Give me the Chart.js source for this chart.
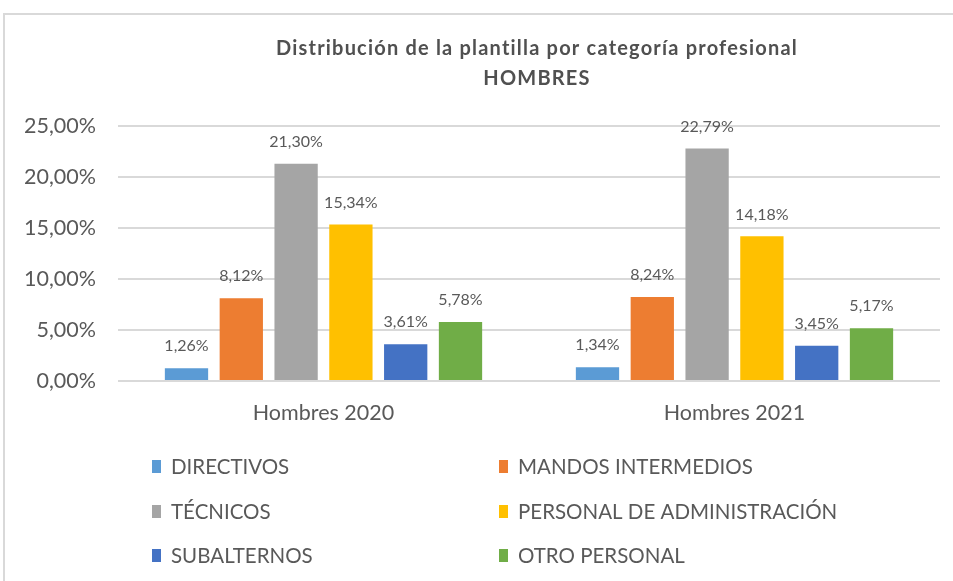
<!DOCTYPE html>
<html>
<head>
<meta charset="utf-8">
<script src="https://cdn.jsdelivr.net/npm/chart.js@4.4.0/dist/chart.umd.min.js"></script>
<style>
html,body{margin:0;padding:0;background:#fff;}
#wrap{width:953px;height:581px;position:relative;}
</style>
</head>
<body>
<div id="wrap"><canvas id="c" width="953" height="581"></canvas></div>
<script>
const categories = ["Hombres 2020", "Hombres 2021"];
const seriesNames = ["DIRECTIVOS", "MANDOS INTERMEDIOS", "TÉCNICOS", "PERSONAL DE ADMINISTRACIÓN", "SUBALTERNOS", "OTRO PERSONAL"];
const directivos = [1.26, 1.34];
const mandosIntermedios = [8.12, 8.24];
const tecnicos = [21.30, 22.79];
const personalAdministracion = [15.34, 14.18];
const subalternos = [3.61, 3.45];
const otroPersonal = [5.78, 5.17];
const yTicks = [0, 5, 10, 15, 20, 25];
const titleLines = ["Distribución de la plantilla por categoría profesional", "HOMBRES"];

const colors = ["#5B9BD5", "#ED7D31", "#A5A5A5", "#FFC000", "#4472C4", "#70AD47"];
const seriesData = [directivos, mandosIntermedios, tecnicos, personalAdministracion, subalternos, otroPersonal];
const FONT = "Lato, 'Open Sans', sans-serif";
const TXT = "#595959";
const fmt = v => v.toFixed(2).replace('.', ',') + '%';

const decor = {
  id: 'decor',
  beforeDraw(chart) {
    const ctx = chart.ctx;
    ctx.save();
    ctx.fillStyle = '#fff';
    ctx.fillRect(0, 0, chart.width, chart.height);
    ctx.strokeStyle = '#d9d9d9';
    ctx.lineWidth = 2;
    ctx.beginPath();
    ctx.moveTo(4, chart.height);
    ctx.lineTo(4, 14);
    ctx.lineTo(chart.width, 14);
    ctx.stroke();
    ctx.restore();
  },
  afterDraw(chart) {
    const ctx = chart.ctx;
    ctx.save();
    // title
    ctx.fillStyle = '#505050';
    ctx.textAlign = 'center';
    ctx.textBaseline = 'middle';
    ctx.font = "bold 20px " + FONT;
    ctx.letterSpacing = '1.2px';
    ctx.fillText(titleLines[0], 537, 49);
    ctx.fillText(titleLines[1], 537, 79);
    ctx.letterSpacing = '0px';
    // legend
    const colX = [152, 499];
    const rowY = [466, 511, 555];
    ctx.textAlign = 'left';
    ctx.fillStyle = TXT;
    ctx.font = "20.5px " + FONT;
    chart.data.datasets.forEach((ds, i) => {
      const x = colX[i % 2];
      const y = rowY[Math.floor(i / 2)];
      ctx.fillStyle = ds.backgroundColor;
      ctx.fillRect(x, y - 6, 9, 13);
      ctx.fillStyle = TXT;
      ctx.fillText(ds.label, x + 19, y + 1);
    });
    ctx.restore();
  },
  afterDatasetsDraw(chart) {
    const ctx = chart.ctx;
    ctx.save();
    ctx.fillStyle = TXT;
    ctx.textAlign = 'center';
    ctx.textBaseline = 'middle';
    ctx.font = "16px " + FONT;
    chart.data.datasets.forEach((ds, i) => {
      const meta = chart.getDatasetMeta(i);
      meta.data.forEach((el, j) => {
        ctx.fillText(fmt(ds.data[j]), el.x, el.y - 22);
      });
    });
    ctx.restore();
  }
};

new Chart(document.getElementById('c'), {
  type: 'bar',
  data: {
    labels: categories,
    datasets: seriesNames.map((n, i) => ({
      label: n,
      data: seriesData[i],
      backgroundColor: colors[i],
      categoryPercentage: 0.8,
      barPercentage: 0.79
    }))
  },
  options: {
    responsive: false,
    animation: false,
    devicePixelRatio: 1,
    layout: { padding: { top: 126, right: 13, left: 0, bottom: 0 } },
    plugins: { legend: { display: false }, title: { display: false }, tooltip: { enabled: false } },
    scales: {
      y: {
        min: 0, max: 25,
        afterBuildTicks: s => { s.ticks = yTicks.map(v => ({ value: v })); },
        ticks: { callback: v => fmt(v), color: TXT, font: { family: FONT, size: 21.5 }, padding: 22 },
        grid: { color: '#d9d9d9', lineWidth: 2, drawTicks: false },
        border: { display: false },
        afterFit: s => { s.width = 118; }
      },
      x: {
        ticks: { color: TXT, font: { family: FONT, size: 21.5 }, padding: 19 },
        grid: { display: false, drawTicks: false },
        border: { display: false },
        afterFit: s => { s.height = 200; }
      }
    }
  },
  plugins: [decor]
});
</script>
</body>
</html>
